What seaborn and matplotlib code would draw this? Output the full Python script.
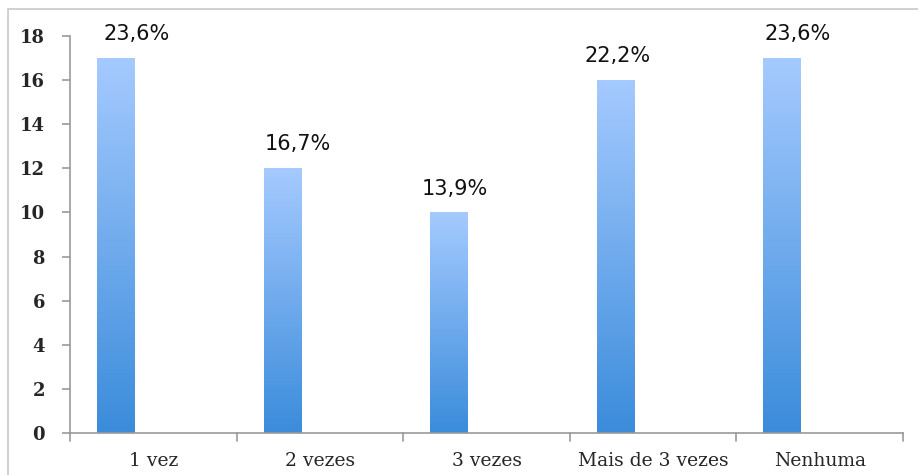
import numpy as np
import pandas as pd
import matplotlib
matplotlib.use("Agg")
import matplotlib.pyplot as plt
import seaborn as sns
from matplotlib.colors import LinearSegmentedColormap
from matplotlib.patches import Rectangle

categorias = ["1 vez", "2 vezes", "3 vezes", "Mais de 3 vezes", "Nenhuma"]
valores = [17, 12, 10, 16, 17]
percentuais = ["23,6%", "16,7%", "13,9%", "22,2%", "23,6%"]
yticks = [0, 2, 4, 6, 8, 10, 12, 14, 16, 18]

# deslocamento horizontal (px) dos rótulos, como estão no original
rot_dx = [21, 15, 6, 2, 15]

sns.set_style("white")
plt.rcParams['font.family'] = ['DejaVu Sans']

df = pd.DataFrame({"categoria": categorias, "valor": valores})

fig = plt.figure(figsize=(9.18, 4.75), dpi=100)
# moldura cinza (só topo e esquerda visíveis)
fig.patches.append(Rectangle((8 / 918, -0.1), 1.2, 1 - 9 / 475 + 0.1,
                             transform=fig.transFigure, fill=False,
                             edgecolor="#c8c8c8", linewidth=1.2))

ax = fig.add_axes([70 / 918, 1 - 433 / 475, (903 - 70) / 918, (433 - 36) / 475])
sns.barplot(data=df, x="categoria", y="valor", ax=ax, width=0.225,
            color="#5fa3ea", saturation=1)

# barras deslocadas à esquerda dentro da categoria (como no Excel)
desloc = -0.225

# gradiente vertical nas barras
cmap = LinearSegmentedColormap.from_list("grad", ["#3b8cdb", "#a5caff"])
grad = np.linspace(0, 1, 256).reshape(-1, 1)
for bar in ax.patches:
    bar.set_x(bar.get_x() + desloc)
    x0, y0 = bar.get_x(), bar.get_y()
    w, h = bar.get_width(), bar.get_height()
    im = ax.imshow(grad, cmap=cmap, aspect="auto", origin="lower",
                   extent=[x0, x0 + w, y0, y0 + h], zorder=bar.get_zorder())
    im.set_clip_path(bar)
    bar.set_facecolor("none")
    bar.set_edgecolor("none")

for i, (v, p) in enumerate(zip(valores, percentuais)):
    ax.annotate(p, (i + desloc, v), xytext=(rot_dx[i] * 0.72, 10),
                textcoords="offset points",
                ha="center", va="bottom", fontsize=15, color="#111111")

ax.set_xlim(-0.5, len(categorias) - 0.5)
ax.set_ylim(0, 18)
ax.set_yticks(yticks)
ax.set_yticklabels([str(t) for t in yticks], fontsize=13, fontweight="bold",
                   family=["DejaVu Serif"])
ax.set_xticks(range(len(categorias)))
ax.set_xticklabels(categorias, fontsize=13.5, family=["DejaVu Serif"])
ax.tick_params(axis="x", length=0, pad=14)
ax.tick_params(axis="y", length=6, width=1.2, color="#999999", left=True, pad=12)
# marcas do eixo x nas divisões
for xb in np.arange(-0.5, len(categorias), 1.0):
    ax.plot([xb, xb], [0, -0.35], color="#999999", lw=1.2, clip_on=False)

ax.set_xlabel("")
ax.set_ylabel("")
for s in ["top", "right"]:
    ax.spines[s].set_visible(False)
for s in ["left", "bottom"]:
    ax.spines[s].set_color("#999999")
    ax.spines[s].set_linewidth(1.2)

fig.savefig("out.png", dpi=100)
